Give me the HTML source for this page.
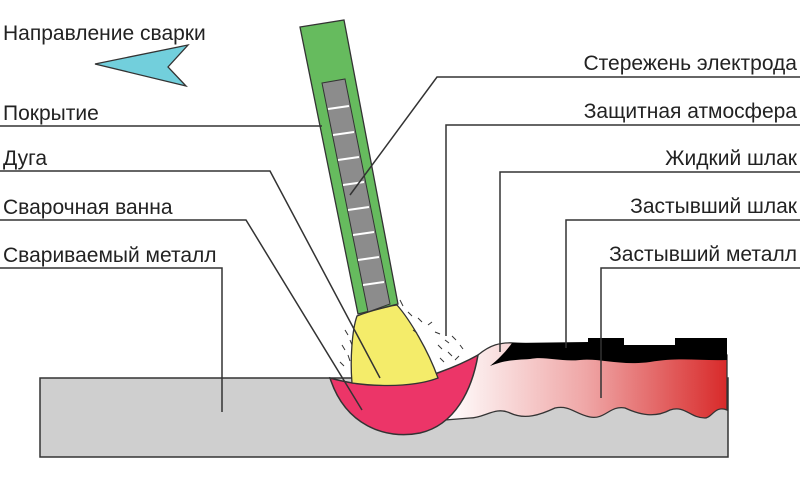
<!DOCTYPE html>
<html><head><meta charset="utf-8"><style>
html,body{margin:0;padding:0;background:#fff;width:800px;height:480px;overflow:hidden}
svg{display:block}
text{font-family:"Liberation Sans","DejaVu Sans",sans-serif;font-size:21px;fill:#222}
</style></head><body>
<svg width="800" height="480" viewBox="0 0 800 480" xmlns="http://www.w3.org/2000/svg">
<defs>
<linearGradient id="mg" x1="0" x2="1" y1="0" y2="0">
<stop offset="0" stop-color="#fff"/><stop offset="0.5" stop-color="#efa6a6"/><stop offset="1" stop-color="#d82a2a"/>
</linearGradient>
</defs>
<!-- base metal -->
<rect x="40" y="378" width="688" height="79" fill="#cfcfcf" stroke="#333" stroke-width="1.5"/>
<!-- deposited metal gradient -->
<path d="M445,420 C460,395 470,370 478,355 C490,345 500,342 515,343 L727,355 L727,410 C715,405 712,418 705,418 C690,418 685,405 670,410 C655,418 640,415 625,408 C610,405 605,420 590,417 C575,414 570,405 555,408 C540,415 525,420 510,413 C495,406 485,418 470,418 Z" fill="url(#mg)" stroke="#333" stroke-width="1.3"/>
<!-- solid slag -->
<path d="M512,343 L588,342 L588,338 L624,338 L624,345 L675,345 L675,338 L727,338 L727,360 C700,361 680,357 650,362 C620,366 600,358 580,360 C560,362 545,356 530,359 C515,360 505,360 490,366 C500,358 507,350 512,343 Z" fill="#000"/>
<!-- pool -->
<path d="M330,378 C345,425 385,440 420,433 C455,425 472,390 478,355 C455,368 420,380 405,382 C380,388 355,385 330,378 Z" fill="#ec3568" stroke="#333" stroke-width="1.5"/>
<!-- arc yellow -->
<path d="M357,316 C372,310 395,305 397,305 C410,320 428,350 438,378 C420,385 390,388 352,383 C350,360 352,330 357,316 Z" fill="#f4ec6a" stroke="#333" stroke-width="1.3"/>
<!-- electrode -->
<polygon points="300,27 344,20 398,304 358,314" fill="#66bb5e" stroke="#333" stroke-width="1.3"/>
<polygon points="322,83 345,79 390,304 368,312" fill="#8c8c8c" stroke="#333" stroke-width="1"/>
<g stroke="#fff" stroke-width="2">
<line x1="328" y1="109" x2="349" y2="106"/><line x1="333" y1="135" x2="354" y2="132"/>
<line x1="338" y1="160" x2="359" y2="157"/><line x1="343" y1="185" x2="364" y2="182"/>
<line x1="348" y1="210" x2="369" y2="207"/><line x1="353" y1="235" x2="374" y2="232"/>
<line x1="358" y1="260" x2="379" y2="257"/><line x1="363" y1="285" x2="384" y2="282"/>
</g>
<!-- atmosphere dashes -->
<g stroke="#333" stroke-width="1">
<line x1="400" y1="300" x2="403" y2="306"/><line x1="408" y1="312" x2="412" y2="316"/><line x1="418" y1="318" x2="422" y2="322"/>
<line x1="428" y1="325" x2="432" y2="322"/><line x1="435" y1="332" x2="440" y2="334"/><line x1="445" y1="340" x2="449" y2="343"/>
<line x1="452" y1="336" x2="456" y2="340"/><line x1="460" y1="345" x2="463" y2="349"/><line x1="438" y1="345" x2="442" y2="349"/>
<line x1="448" y1="352" x2="452" y2="356"/><line x1="440" y1="358" x2="444" y2="362"/><line x1="455" y1="360" x2="459" y2="356"/>
<line x1="345" y1="330" x2="348" y2="335"/><line x1="342" y1="345" x2="345" y2="350"/><line x1="348" y1="355" x2="350" y2="361"/>
<line x1="340" y1="362" x2="344" y2="366"/><line x1="350" y1="340" x2="352" y2="345"/><line x1="413" y1="330" x2="417" y2="333"/>
</g>
<!-- arrow -->
<polygon points="95,64 188,45 168,67 186,86" fill="#72cfdc" stroke="#333" stroke-width="1.3"/>
<!-- leaders -->
<g stroke="#333" stroke-width="1.5" fill="none">
<polyline points="0,126 322,126"/>
<polyline points="0,171 270,171 380,378"/>
<polyline points="0,220 246,220 362,410"/>
<polyline points="0,268 222,268 222,412"/>
<polyline points="800,77 437,77 350,195"/>
<polyline points="800,125 446,125 446,336"/>
<polyline points="800,172 500,172 500,352"/>
<polyline points="800,220 566,220 566,348"/>
<polyline points="800,268 601,268 601,398"/>
</g>
<!-- labels -->
<text x="3" y="40">Направление сварки</text>
<text x="3" y="120">Покрытие</text>
<text x="3" y="165">Дуга</text>
<text x="3" y="214">Сварочная ванна</text>
<text x="3" y="262">Свариваемый металл</text>
<g text-anchor="end">
<text x="797" y="70">Стережень электрода</text>
<text x="797" y="118">Защитная атмосфера</text>
<text x="797" y="165">Жидкий шлак</text>
<text x="797" y="213">Застывший шлак</text>
<text x="797" y="261">Застывший металл</text>
</g>
</svg>
</body></html>
